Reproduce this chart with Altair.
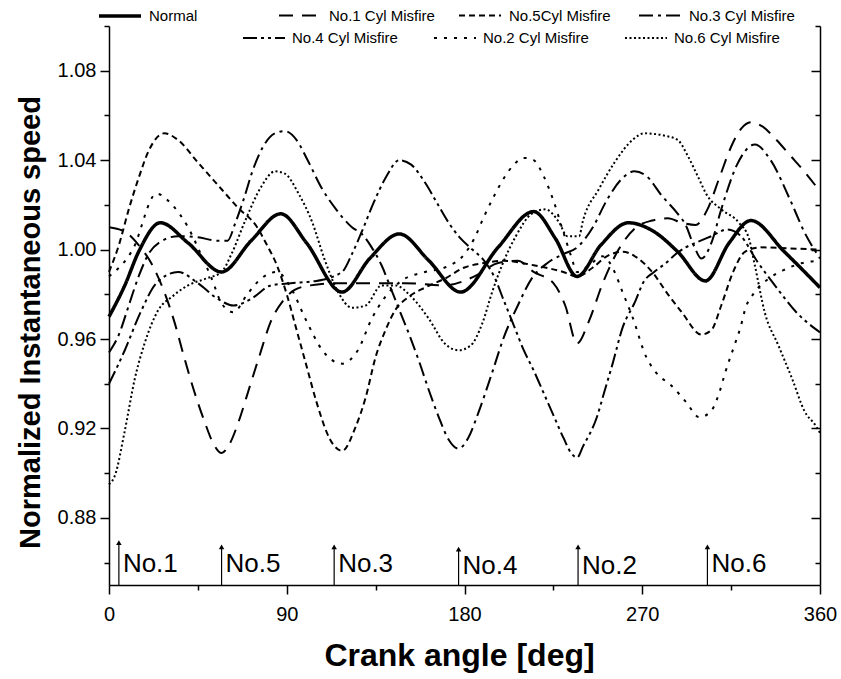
import altair as alt
import pandas as pd

FONT = "Liberation Sans"

# ---------------- data ----------------
normal_deg = [0, 8, 15, 26, 40, 57, 72, 87, 100, 118, 132, 147, 162, 178, 197, 215, 226, 237, 249, 263, 276, 288, 302, 314, 325, 342, 360]
normal_val = [0.970, 0.984, 0.999, 1.012, 1.003, 0.990, 1.004, 1.016, 1.003, 0.981, 0.996, 1.007, 0.995, 0.981, 1.001, 1.017, 1.005, 0.988, 1.002, 1.012, 1.008, 0.999, 0.986, 1.003, 1.013, 0.999, 0.983]

no1_deg = [0, 8, 15, 22, 28, 33, 38, 43, 48, 53, 57, 61, 66, 71, 76, 82, 88, 94, 102, 115, 130, 150, 170, 185, 197, 207, 215, 225, 231, 237, 243, 250, 258, 267, 275, 283, 290, 297, 303, 309, 315, 320, 325, 331, 338, 345, 352, 360]
no1_val = [1.010, 1.008, 1.002, 0.993, 0.981, 0.968, 0.952, 0.937, 0.924, 0.913, 0.909, 0.913, 0.924, 0.938, 0.952, 0.968, 0.977, 0.982, 0.984, 0.985, 0.985, 0.985, 0.984, 0.988, 0.994, 0.995, 0.990, 0.985, 0.975, 0.958, 0.968, 0.985, 1.000, 1.010, 1.013, 1.014, 1.012, 1.011, 1.018, 1.032, 1.046, 1.054, 1.057, 1.055, 1.049, 1.042, 1.035, 1.026]

no5_deg = [0, 5, 10, 15, 20, 28, 35, 45, 57, 65, 75, 80, 85, 90, 95, 100, 105, 112, 118, 125, 130, 135, 140, 145, 152, 160, 170, 180, 190, 200, 215, 230, 237, 245, 252, 260, 268, 275, 283, 290, 300, 305, 310, 316, 322, 330, 345, 360]
no5_val = [0.990, 1.002, 1.018, 1.032, 1.044, 1.052, 1.049, 1.039, 1.027, 1.019, 1.010, 1.002, 0.993, 0.980, 0.964, 0.948, 0.932, 0.915, 0.910, 0.921, 0.934, 0.952, 0.964, 0.973, 0.979, 0.983, 0.987, 0.992, 0.994, 0.995, 0.993, 0.990, 0.988, 0.992, 0.997, 0.999, 0.996, 0.990, 0.980, 0.972, 0.962, 0.964, 0.975, 0.990, 0.999, 1.001, 1.0005, 1.000]

no3_deg = [0, 5, 10, 15, 20, 27, 35, 45, 55, 60, 64, 68, 73, 78, 84, 89, 95, 100, 108, 115, 123, 128, 133, 138, 143, 147, 152, 157, 162, 167, 172, 177, 182, 187, 194, 200, 207, 214, 222, 230, 237, 245, 252, 260, 266, 272, 280, 288, 292, 296, 300, 305, 310, 318, 327, 335, 345, 352, 360]
no3_val = [0.954, 0.962, 0.975, 0.988, 0.998, 1.004, 1.006, 1.0055, 1.004, 1.004, 1.012, 1.022, 1.036, 1.046, 1.052, 1.053, 1.049, 1.041, 1.027, 1.018, 1.010, 1.007, 1.001, 0.993, 0.982, 0.973, 0.962, 0.950, 0.937, 0.925, 0.915, 0.911, 0.916, 0.927, 0.945, 0.961, 0.975, 0.987, 0.994, 0.998, 1.001, 1.010, 1.022, 1.032, 1.035, 1.033, 1.024, 1.016, 1.011, 1.002, 0.996, 1.003, 1.018, 1.038, 1.047, 1.040, 1.022, 1.008, 0.996]

no4_deg = [0, 8, 16, 24, 35, 45, 55, 63, 72, 82, 92, 105, 118, 123, 128, 134, 140, 147, 153, 160, 166, 172, 178, 184, 190, 195, 200, 205, 210, 215, 220, 225, 230, 234, 237, 240, 247, 251, 255, 260, 266, 271, 276, 282, 287, 292, 297, 305, 313, 320, 328, 338, 348, 360]
no4_val = [0.940, 0.955, 0.972, 0.985, 0.990, 0.985, 0.978, 0.975, 0.978, 0.984, 0.985, 0.986, 0.990, 0.998, 1.008, 1.021, 1.032, 1.040, 1.038, 1.030, 1.021, 1.012, 1.005, 1.000, 0.995, 0.988, 0.977, 0.966, 0.955, 0.946, 0.936, 0.926, 0.916, 0.909, 0.907, 0.912, 0.925, 0.937, 0.949, 0.965, 0.976, 0.986, 0.990, 0.994, 0.998, 1.001, 1.003, 1.006, 1.009, 1.006, 0.995, 0.983, 0.972, 0.963]

no2_deg = [0, 12, 24, 32, 40, 47, 52, 57, 63, 70, 77, 85, 92, 100, 108, 118, 126, 133, 140, 148, 160, 170, 180, 185, 190, 195, 200, 205, 210, 215, 220, 225, 230, 234, 237, 243, 250, 256, 260, 265, 272, 277, 285, 292, 299, 305, 309, 312, 317, 320, 322, 327, 334, 342, 351, 360]
no2_val = [0.988, 1.000, 1.025, 1.020, 1.010, 0.997, 0.987, 0.976, 0.972, 0.980, 0.987, 0.990, 0.983, 0.968, 0.955, 0.949, 0.955, 0.969, 0.979, 0.986, 0.990, 0.992, 0.998, 1.005, 1.015, 1.024, 1.032, 1.038, 1.041, 1.040, 1.033, 1.022, 1.008, 0.997, 0.990, 0.993, 0.997, 0.990, 0.981, 0.970, 0.952, 0.945, 0.939, 0.932, 0.925, 0.928, 0.936, 0.945, 0.958, 0.966, 0.973, 0.981, 0.987, 0.991, 0.994, 0.995]

no6_deg = [0, 3, 8, 13, 18, 25, 32, 40, 49, 57, 62, 69, 77, 84, 89, 96, 103, 109, 116, 123, 130, 138, 145, 153, 162, 170, 177, 183, 189, 194, 199, 206, 214, 221, 228, 232, 238, 240, 248, 256, 265, 271, 281, 288, 293, 298, 303, 310, 319, 324, 327, 332, 339, 346, 352, 358, 360]
no6_val = [0.895, 0.899, 0.919, 0.942, 0.958, 0.973, 0.979, 0.984, 0.987, 0.990, 0.998, 1.013, 1.028, 1.035, 1.034, 1.025, 1.012, 0.996, 0.981, 0.974, 0.975, 0.984, 0.984, 0.979, 0.969, 0.958, 0.955, 0.957, 0.967, 0.981, 0.993, 1.006, 1.016, 1.018, 1.012, 1.006, 1.006, 1.013, 1.027, 1.039, 1.049, 1.052, 1.051, 1.049, 1.042, 1.033, 1.024, 1.018, 1.012, 1.005, 0.993, 0.972, 0.957, 0.942, 0.928, 0.921, 0.918]

names_a = ["Normal", "No.1 Cyl Misfire", "No.5Cyl Misfire", "No.3 Cyl Misfire"]
names_b = ["No.4 Cyl Misfire", "No.2 Cyl Misfire", "No.6 Cyl Misfire"]
dash_a = [[1, 0], [14, 9], [6, 4], [14, 5, 3, 5]]
dash_b = [[14, 4, 3, 4, 3, 4], [3, 7], [2, 2.5]]
width_a = [3.5, 2, 2, 2]
width_b = [2, 2, 2]

fire_deg = [5, 57, 114, 177, 237.5, 303]
fire_top = [0.869, 0.867, 0.867, 0.866, 0.867, 0.867]
fire_label = ["No.1", "No.5", "No.3", "No.4", "No.2", "No.6"]
fire_label_y = [0.8595, 0.8595, 0.8595, 0.8585, 0.8585, 0.8595]

y_ticks = [0.86, 0.88, 0.90, 0.92, 0.94, 0.96, 0.98, 1.00, 1.02, 1.04, 1.06, 1.08, 1.10]
x_ticks = [0, 45, 90, 135, 180, 225, 270, 315, 360]

# ---------------- tables ----------------
def table(pairs):
    rows = []
    for name, degs, vals in pairs:
        for d, v in zip(degs, vals):
            rows.append({"series": name, "deg": d, "val": v})
    return pd.DataFrame(rows)

df_a = table([
    (names_a[0], normal_deg, normal_val),
    (names_a[1], no1_deg, no1_val),
    (names_a[2], no5_deg, no5_val),
    (names_a[3], no3_deg, no3_val),
])
df_b = table([
    (names_b[0], no4_deg, no4_val),
    (names_b[1], no2_deg, no2_val),
    (names_b[2], no6_deg, no6_val),
])
df_fire = pd.DataFrame({"deg": fire_deg, "top": fire_top, "base": [0.85] * len(fire_deg),
                        "label": fire_label, "ly": fire_label_y})

xscale = alt.Scale(domain=[0, 360], nice=False, zero=False)
yscale = alt.Scale(domain=[0.85, 1.10], nice=False, zero=False)

major_y = "round(datum.value*100) % 4 == 0"
major_x = "round(datum.value) % 90 == 0"

x_axis = alt.Axis(
    values=x_ticks, title="Crank angle [deg]",
    labelExpr=f"{major_x} ? datum.label : ''",
    tickSize={"condition": {"test": major_x, "value": 9}, "value": 5},
    grid=False, domainColor="black", domainWidth=1.5, tickColor="black", tickWidth=1.5,
    labelFont=FONT, labelFontSize=20, labelColor="black", labelPadding=10,
    titleFont=FONT, titleFontSize=32, titleFontWeight="bold", titleColor="black", titlePadding=16,
    titleX=350, labelFlush=False,
)
y_axis_left = alt.Axis(
    values=y_ticks, title="Normalized  Instantaneous  speed",
    labelExpr=f"{major_y} ? format(datum.value, '.2f') : ''",
    tickSize={"condition": {"test": major_y, "value": 9}, "value": 5},
    grid=False, domainColor="black", domainWidth=1.5, tickColor="black", tickWidth=1.5,
    labelFont=FONT, labelFontSize=20, labelColor="black", labelPadding=4,
    titleFont=FONT, titleFontSize=29, titleFontWeight="bold", titleColor="black", titlePadding=12,
    titleY=296, labelFlush=False,
)
y_axis_right = alt.Axis(
    orient="right", values=y_ticks, title=None, labels=False,
    tickSize={"expr": f"{major_y} ? -9 : -5"},
    grid=False, domainColor="black", domainWidth=1.5, tickColor="black", tickWidth=1.5,
)

def legend(cols, x, y, pad):
    return alt.Legend(
        title=None, orient="none", legendX=x, legendY=y, direction="horizontal", columns=cols,
        gridAlign="all", columnPadding=pad, symbolType="stroke", symbolSize=1764,
        symbolStrokeColor="black", labelFont=FONT, labelFontSize=15, labelColor="black",
        labelOffset=6, padding=0, symbolOffset=0,
    )

leg_a = legend(4, -12, -33, 20)
leg_b = legend(3, 133, -10, 32)

lines_a = alt.Chart(df_a).mark_line(interpolate="monotone", color="black").encode(
    x=alt.X("deg:Q", scale=xscale, axis=x_axis),
    y=alt.Y("val:Q", scale=yscale, axis=y_axis_left),
    strokeDash=alt.StrokeDash("series:N", scale=alt.Scale(domain=names_a, range=dash_a), legend=leg_a),
    strokeWidth=alt.StrokeWidth("series:N", scale=alt.Scale(type="ordinal", domain=names_a, range=width_a), legend=leg_a),
)
lines_b = alt.Chart(df_b).mark_line(interpolate="monotone", color="black").encode(
    x=alt.X("deg:Q", scale=xscale),
    y=alt.Y("val:Q", scale=yscale, axis=y_axis_right),
    strokeDash=alt.StrokeDash("series:N", scale=alt.Scale(domain=names_b, range=dash_b), legend=leg_b),
    strokeWidth=alt.StrokeWidth("series:N", scale=alt.Scale(type="ordinal", domain=names_b, range=width_b), legend=leg_b),
)

shafts = alt.Chart(df_fire).mark_rule(color="black", strokeWidth=1.2).encode(
    x=alt.X("deg:Q", scale=xscale),
    y=alt.Y("base:Q", scale=yscale, axis=None),
    y2="top:Q",
)
heads = alt.Chart(df_fire).mark_point(shape="triangle-up", filled=True, color="black", size=30, opacity=1).encode(
    x=alt.X("deg:Q", scale=xscale),
    y=alt.Y("top:Q", scale=yscale, axis=None),
)
labels = alt.Chart(df_fire).mark_text(align="left", baseline="middle", dx=4, font=FONT, fontSize=26, color="black").encode(
    x=alt.X("deg:Q", scale=xscale),
    y=alt.Y("ly:Q", scale=yscale, axis=None),
    text="label:N",
)

chart = alt.layer(lines_a, lines_b, shafts, heads, labels).resolve_scale(
    strokeDash="independent", strokeWidth="independent"
).resolve_axis(y="independent").resolve_legend(
    strokeDash="independent", strokeWidth="independent"
).properties(
    width=711, height=559,
    padding={"left": 109, "top": 26, "right": 21, "bottom": 94},
    autosize=alt.AutoSizeParams(type="none"),
    background="white",
).configure_view(stroke=None)

chart.save("out.html", embed_options={"renderer": "svg", "actions": False})
